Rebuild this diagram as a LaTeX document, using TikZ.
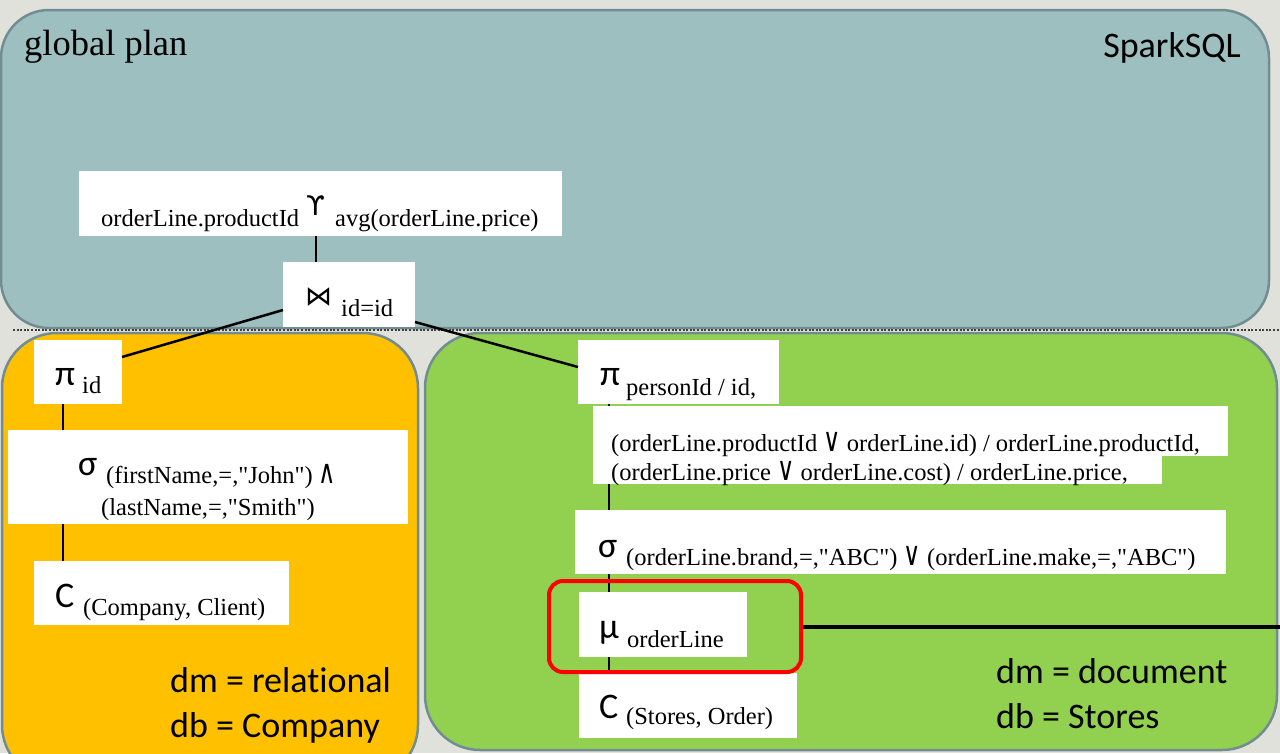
\documentclass[tikz,border=0pt]{standalone}
\usepackage{fontspec}
\setmainfont{Liberation Serif}
% plain serif family without TeX quote mapping, so " stays straight
\newfontfamily\serifplain{Liberation Serif}
\newfontfamily\calibfont{Carlito}[Ligatures=NoCommon]
\newfontfamily\symbfont{DejaVu Sans}
\usetikzlibrary{calc}

\definecolor{pagebg}{HTML}{E1E1DC}
\definecolor{planfill}{HTML}{9DBFBF}
\definecolor{relfill}{HTML}{FFC000}
\definecolor{docfill}{HTML}{92D050}
\definecolor{panelline}{HTML}{728D91}
\definecolor{hlred}{HTML}{FF0000}

% font sizes (1 unit = 1pt)
\newcommand\subsize{\serifplain\fontsize{24.5}{29}\selectfont}
\newcommand\opsize{\calibfont\fontsize{36}{40}\selectfont}
\newcommand\labsize{\calibfont\fontsize{36}{44}\selectfont}
\newcommand\titlesize{\fontsize{36.5}{42}\selectfont}
\newcommand\logicsym[1]{\scalebox{0.72}[1]{\symbfont\fontsize{33}{38}\selectfont #1}}

\tikzset{
  panel/.style={draw=panelline, line width=2.5pt, rounded corners=48pt},
  opbox/.style={fill=white, draw=none, anchor=north west, inner sep=0pt, outer sep=0pt},
  optext/.style={anchor=base west, inner sep=0pt, font=\opsize},
  subtext/.style={anchor=base west, inner sep=0pt, font=\subsize},
  symtext/.style={anchor=base west, inner sep=0pt, font=\symbfont\fontsize{27}{32}\selectfont},
  labtext/.style={anchor=base west, inner sep=0pt, font=\labsize},
  tree/.style={line width=2.5pt, black},
}

\begin{document}
\begin{tikzpicture}[x=1pt, y=-1pt]
  \useasboundingbox (0,0) rectangle (1280,753);
  \clip (0,0) rectangle (1280,753);
  \fill[pagebg] (0,0) rectangle (1280,753);

  % the three execution areas
  \draw[panel, fill=planfill] (1,10) rectangle (1269,328);
  \draw[panel, fill=relfill, rounded corners=55pt] (2,333) rectangle (418,780);
  \draw[panel, fill=docfill, rounded corners=55pt] (425,333) rectangle (1277,750);

  % separator between the global plan and the local plans
  \draw[black!75, line width=1.2pt, dash pattern=on 2pt off 1.6pt] (13,330) -- (1280,330);

  % area captions
  \node[anchor=base west, inner sep=0pt, font=\titlesize] (tglobal) at (24,55) {global plan};
  \node[anchor=base east, inner sep=0pt, font=\labsize] (tspark) at (1241,57) {SparkSQL};

  % operator boxes
  \node[opbox, minimum width=483pt, minimum height=65pt] (gam) at (79,171) {};
  \node[opbox, minimum width=132pt, minimum height=65pt] (join) at (283,262) {};
  \node[opbox, minimum width=88pt, minimum height=64pt] (pid) at (34,340) {};
  \node[opbox, minimum width=400pt, minimum height=94pt] (rsel) at (8,430) {};
  \node[opbox, minimum width=255pt, minimum height=64pt] (rsrc) at (34,561) {};
  \node[opbox, minimum width=201pt, minimum height=64pt] (dproj) at (578,340) {};
  \node[opbox, minimum width=569pt, minimum height=78pt] (dprojb) at (593,406) {};
  \fill[white] (1160,406) rectangle (1228,456);
  \node[opbox, minimum width=651pt, minimum height=64pt] (dsel) at (575,510) {};
  \node[opbox, minimum width=168pt, minimum height=65pt] (dunn) at (579,592) {};
  \node[opbox, minimum width=218pt, minimum height=65pt] (dsrc) at (579,673) {};

  % plan edges
  \draw[tree] ($(gam.south west)+(237,0)$) -- ($(join.north west)+(33,0)$);
  \draw[tree] ($(join.south west)+(0,-17)$) -- ($(pid.north east)+(0,17)$);
  \draw[tree] ($(join.south east)+(0,-5)$) -- ($(dproj.north west)+(0,27)$);
  \draw[tree] ($(pid.south west)+(29,0)$) -- ($(rsel.north west)+(55,0)$);
  \draw[tree] ($(rsel.south west)+(55,0)$) -- ($(rsrc.north west)+(29,0)$);
  \draw[tree] ($(dproj.south west)+(31,0)$) -- ($(dprojb.north west)+(16,0)$);
  \draw[tree] ($(dprojb.south west)+(16,0)$) -- ($(dsel.north west)+(34,0)$);
  \draw[tree] ($(dsel.south west)+(34,0)$) -- ($(dunn.north west)+(30,0)$);
  \draw[tree] ($(dunn.south west)+(30,0)$) -- ($(dsrc.north west)+(30,0)$);

  % aggregation
  \node[subtext] (gsub1) at (101,226) {orderLine.productId};
  \node[symtext] (gop) at (306,215) {ϒ};
  \node[subtext] (gsub2) at (335,226) {avg(orderLine.price)};

  % join
  \node[symtext] (jop) at (305,305) {⋈};
  \node[subtext] (jsub) at (341,316) {id=id};

  % relational side
  \node[optext] (pidop) at (55,385) {π};
  \node[subtext] (pidsub) at (82,393) {id};
  \node[optext] (rselop) at (78,475) {σ};
  \node[subtext] (rselsub1) at (106,483) {(firstName,=,"John") \logicsym{∧}};
  \node[subtext] (rselsub2) at (101,515) {(lastName,=,"Smith")};
  \node[optext] (rsrcop) at (55,607) {C};
  \node[subtext] (rsrcsub) at (83,615) {(Company, Client)};
  \node[labtext] (rdm) at (170,692) {dm = relational};
  \node[labtext] (rdb) at (170,737) {db = Company};

  % document side
  \node[optext] (dprojop) at (600,385) {π};
  \node[subtext] (dprojsub) at (626,395) {personId / id,};
  \node[subtext] (dprojl1) at (611,451) {(orderLine.productId \logicsym{∨} orderLine.id) / orderLine.productId,};
  \node[subtext] (dprojl2) at (611,480) {(orderLine.price \logicsym{∨} orderLine.cost) / orderLine.price,};
  \node[optext] (dselop) at (598,557) {σ};
  \node[subtext] (dselsub) at (626,565) {(orderLine.brand,=,"ABC") \logicsym{∨} (orderLine.make,=,"ABC")};
  \node[optext] (dunnop) at (599,638) {μ};
  \node[subtext] (dunnsub) at (627,647) {orderLine};
  \node[optext] (dsrcop) at (599,718) {C};
  \node[subtext] (dsrcsub) at (626,724) {(Stores, Order)};
  \node[labtext] (ddm) at (996,683) {dm = document};
  \node[labtext] (ddb) at (996,728) {db = Stores};

  % highlighted unnest operator and its outgoing link
  \node[draw=hlred, line width=4pt, rounded corners=14pt, anchor=north west,
        minimum width=252pt, minimum height=91pt, inner sep=0pt] (hl) at (547,579) {};
  \coordinate (rimx) at (1280,0);
  \draw[line width=4pt] (hl.east) -- (hl.east -| rimx);
\end{tikzpicture}
\end{document}
